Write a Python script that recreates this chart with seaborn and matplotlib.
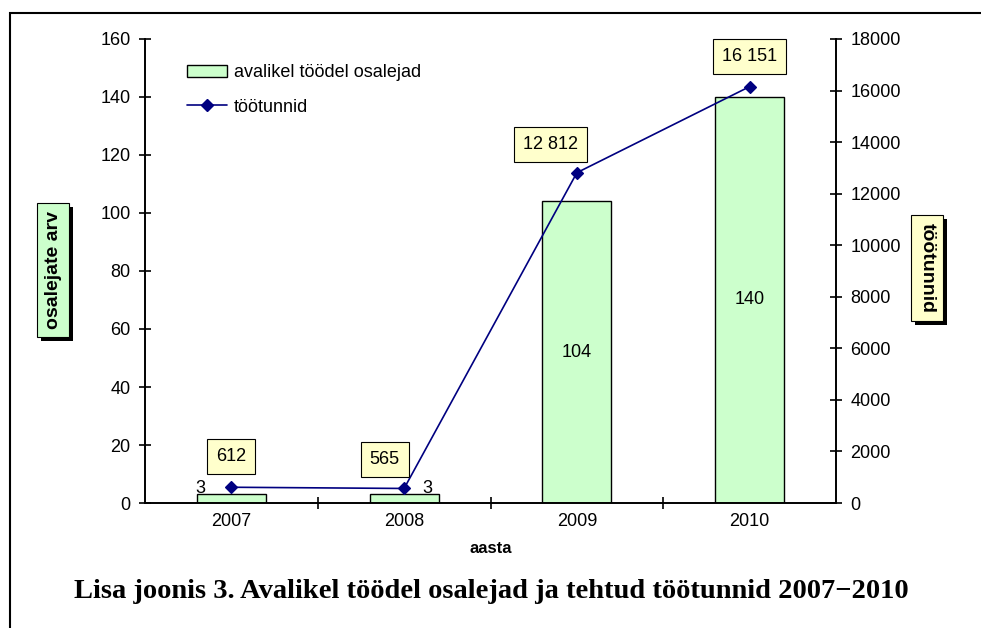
import numpy as np
import pandas as pd
import seaborn as sns
import matplotlib.pyplot as plt
import matplotlib.patheffects as pe
from matplotlib.patches import Patch, Rectangle
from matplotlib.lines import Line2D

# Data
years = ['2007', '2008', '2009', '2010']
participants = [3, 3, 104, 140]
work_hours = [612, 565, 12812, 16151]

df = pd.DataFrame({'aasta': years, 'osalejad': participants, 'tunnid': work_hours})

bar_green = '#CCFFCC'
note_yellow = '#FFFFCC'
navy = '#000080'

sns.set_style('white')
plt.rcParams['font.family'] = ['Liberation Sans', 'DejaVu Sans']
plt.rcParams.update({'text.color': 'black', 'axes.labelcolor': 'black',
                     'xtick.color': 'black', 'ytick.color': 'black'})

fig = plt.figure(figsize=(9.81, 6.28), dpi=100)
ax = fig.add_axes([0.1478, 0.199, 0.7044, 0.739])

# Bars - participants
sns.barplot(data=df, x='aasta', y='osalejad', color=bar_green, saturation=1,
            edgecolor='black', linewidth=1, width=0.4, ax=ax)

# Line - work hours on secondary axis
ax2 = ax.twinx()
sns.pointplot(data=df, x='aasta', y='tunnid', ax=ax2, color=navy, errorbar=None,
              marker='D', markersize=6, linewidth=1.2)

for a in (ax, ax2):
    a.set_xlim(-0.5, 3.5)
    a.spines['top'].set_visible(False)
    for s in a.spines.values():
        s.set_linewidth(1.2)
        s.set_color('black')

ax.set_ylim(0, 160)
ax.set_yticks(np.arange(0, 161, 20))
ax2.set_ylim(0, 18000)
ax2.set_yticks(np.arange(0, 18001, 2000))
ax.set_ylabel('')
ax2.set_ylabel('')

ax.tick_params(axis='y', direction='inout', length=9, width=1.2, labelsize=13, pad=6, left=True)
ax2.tick_params(axis='y', direction='inout', length=9, width=1.2, labelsize=13, pad=6, right=True)
ax.set_xticks([0.5, 1.5, 2.5], minor=True)
ax.tick_params(axis='x', which='major', length=0, labelsize=13, pad=7)
ax.tick_params(axis='x', which='minor', direction='inout', length=9, width=1.2, bottom=True)
ax.set_xlabel('aasta', fontsize=12, fontweight='bold', labelpad=8)

# Bar value labels
bar_offsets = [(-22, 4), (17, 4), None, None]
for i, (v, off) in enumerate(zip(participants, bar_offsets)):
    if off is None:
        ax.annotate(str(v), xy=(i, v / 2), ha='center', va='center', fontsize=13)
    else:
        ax.annotate(str(v), xy=(i, v), xytext=off, textcoords='offset points',
                    ha='center', va='center', fontsize=13)

# Line value labels
line_offsets = [(0, 22), (-14, 21), (-19, 20), (0, 22)]
for i, (v, off) in enumerate(zip(work_hours, line_offsets)):
    ax2.annotate(f'{v:,}'.replace(',', ' '), xy=(i, v), xytext=off, textcoords='offset points',
                 ha='center', va='center', fontsize=13,
                 bbox=dict(boxstyle='square,pad=0.5', fc=note_yellow, ec='black', lw=0.8))

# Legend
handles = [Patch(facecolor=bar_green, edgecolor='black', label='avalikel töödel osalejad'),
           Line2D([], [], color=navy, marker='D', markersize=6, lw=1.2, label='töötunnid')]
ax2.legend(handles=handles, loc='upper left', bbox_to_anchor=(0.037, 0.98), frameon=False,
           fontsize=13, handlelength=2.2, labelspacing=0.95, handletextpad=0.4)

# Axis title boxes with shadow
shadow = [pe.withSimplePatchShadow(offset=(3, -3), shadow_rgbFace='black', alpha=1.0)]
t1 = fig.text(53 / 981, 1 - 270 / 628, 'osalejate arv', rotation=90, ha='center', va='center',
              fontsize=14, fontweight='bold',
              bbox=dict(boxstyle='square,pad=0.4', fc=bar_green, ec='black', lw=0.8))
t1.get_bbox_patch().set_path_effects(shadow)
t2 = fig.text(927 / 981, 1 - 268 / 628, 'töötunnid', rotation=-90, ha='center', va='center',
              fontsize=14, fontweight='bold',
              bbox=dict(boxstyle='square,pad=0.4', fc=note_yellow, ec='black', lw=0.8))
t2.get_bbox_patch().set_path_effects(shadow)

# Caption
fig.text(0.5005, 1 - 592 / 628, 'Lisa joonis 3. Avalikel töödel osalejad ja tehtud töötunnid 2007−2010',
         ha='center', va='center', fontsize=20.5, fontweight='bold', family='Liberation Serif')

# Outer frame (cropped at right and bottom)
fig.patches.append(Rectangle((10 / 981, -0.1), 1.2, 1.1 - 13 / 628, transform=fig.transFigure,
                             fill=False, ec='black', lw=1.5))

fig.savefig('out.png', dpi=100)
